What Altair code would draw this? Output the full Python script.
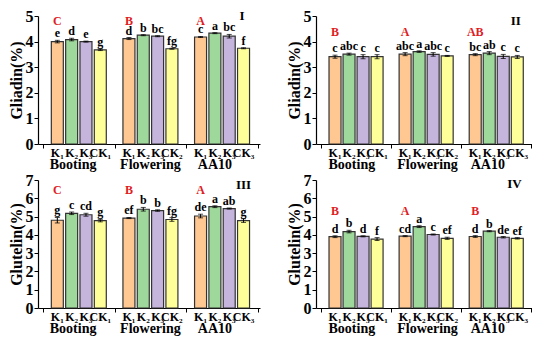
import altair as alt
import pandas as pd

FONT = "Liberation Serif"

groups = ["Booting", "Flowering", "AA10"]
treat_idx = [0, 1, 2, 3]
colors = ["#FFC892", "#9FD89B", "#C5B5DC", "#FFFF99"]

# Panel I  (Gliadin)
p1_vals = [4.00, 4.08, 4.00, 3.68, 4.12, 4.25, 4.21, 3.72, 4.18, 4.33, 4.21, 3.74]
p1_errs = [0.05, 0.05, 0.02, 0.03, 0.04, 0.02, 0.02, 0.02, 0.02, 0.02, 0.07, 0.02]
p1_lets = ["e", "d", "e", "g", "d", "b", "bc", "fg", "c", "a", "bc", "f"]
p1_grp = ["C", "B", "A"]

# Panel II (Gliadin)
p2_vals = [3.41, 3.51, 3.41, 3.41, 3.51, 3.61, 3.50, 3.44, 3.49, 3.55, 3.42, 3.40]
p2_errs = [0.06, 0.04, 0.08, 0.08, 0.06, 0.03, 0.07, 0.02, 0.04, 0.06, 0.08, 0.06]
p2_lets = ["c", "abc", "c", "c", "abc", "a", "abc", "c", "bc", "ab", "c", "c"]
p2_grp = ["B", "A", "AB"]

# Panel III (Glutelin)
p3_vals = [4.80, 5.18, 5.10, 4.78, 4.92, 5.40, 5.33, 4.84, 5.03, 5.54, 5.44, 4.78]
p3_errs = [0.15, 0.07, 0.08, 0.07, 0.03, 0.10, 0.04, 0.10, 0.10, 0.05, 0.03, 0.10]
p3_lets = ["g", "c", "cd", "g", "ef", "b", "b", "fg", "de", "a", "ab", "g"]
p3_grp = ["C", "B", "A"]

# Panel IV (Glutelin)
p4_vals = [3.90, 4.18, 3.92, 3.77, 3.93, 4.45, 4.02, 3.81, 3.91, 4.20, 3.87, 3.81]
p4_errs = [0.05, 0.07, 0.03, 0.08, 0.03, 0.05, 0.03, 0.06, 0.05, 0.03, 0.04, 0.04]
p4_lets = ["d", "b", "d", "f", "cd", "a", "c", "ef", "d", "b", "de", "ef"]
p4_grp = ["B", "A", "B"]

tick_names = [["K₁", "K₂", "K₃", "CK₁"], ["K₁", "K₂", "K₃", "CK₂"], ["K₁", "K₂", "K₃", "CK₃"]]

H = 128


def pos(g, b):
    return g * 5 + b + 1


def panel(vals, errs, lets, grp, roman, ytitle, ymax, grp_y, roman_y, roman_x, W, unit, gpos):
    rows = []
    for g in range(3):
        for b in range(4):
            i = g * 4 + b
            rows.append(dict(pos=pos(g, b), val=vals[i], lo=vals[i] - errs[i],
                             hi=vals[i] + errs[i], let=lets[i], treat=b,
                             tick=tick_names[g][b]))
    df = pd.DataFrame(rows)
    gdf = pd.DataFrame(dict(pos=[pos(g, 0) for g in range(3)], lab=grp,
                            y=[grp_y] * 3))
    gl = pd.DataFrame(dict(pos=gpos, lab=groups))
    rdf = pd.DataFrame(dict(pos=[roman_x], lab=[roman], y=[roman_y]))

    xsc = alt.Scale(domain=[0, W / unit], nice=False, zero=False)
    xax = alt.Axis(values=[0, 5, 10, 15], labels=False, title=None,
                   grid=False, tickSize=4, domainColor="black",
                   tickColor="black", domainWidth=1.2)
    ysc = alt.Scale(domain=[0, ymax], nice=False, zero=True)
    yax = alt.Axis(values=list(range(0, ymax + 1)), title=ytitle, grid=False,
                   tickSize=4, domainColor="black", tickColor="black",
                   domainWidth=1.2, titlePadding=1, labelOverlap=False,
                   labelFlush=False)

    def X():
        return alt.X("pos:Q", scale=xsc, axis=xax)

    def Y(f):
        return alt.Y(f, scale=ysc, axis=yax)

    base = alt.Chart(df)
    bars = base.mark_bar(size=12, stroke="#333333", strokeWidth=1.2).encode(
        x=X(), y=Y("val:Q"),
        color=alt.Color("treat:O", scale=alt.Scale(domain=treat_idx, range=colors),
                        legend=None),
    )
    err = base.mark_rule(color="black", strokeWidth=1).encode(
        x=X(), y=Y("lo:Q"), y2="hi:Q")
    cap_hi = base.mark_tick(color="black", size=5, thickness=1, orient="horizontal").encode(
        x=X(), y=Y("hi:Q"))
    cap_lo = base.mark_tick(color="black", size=5, thickness=1, orient="horizontal").encode(
        x=X(), y=Y("lo:Q"))
    lett = base.mark_text(font=FONT, fontWeight="bold", fontSize=12,
                          baseline="alphabetic", dy=-3, color="black").encode(
        x=X(), y=Y("hi:Q"), text="let:N")
    ticks = base.mark_text(font=FONT, fontWeight="bold", fontSize=12,
                           baseline="middle", color="black").encode(
        x=X(), y=alt.value(H + 9), text="tick:N")
    glabs = alt.Chart(gl).mark_text(font=FONT, fontWeight="bold", fontSize=14,
                                    baseline="middle", color="black").encode(
        x=X(), y=alt.value(H + 21), text="lab:N")
    glet = alt.Chart(gdf).mark_text(font=FONT, fontWeight="bold", fontSize=12,
                                    baseline="middle", color="#E0201F").encode(
        x=X(), y=Y("y:Q"), text="lab:N")
    rom = alt.Chart(rdf).mark_text(font=FONT, fontWeight="bold", fontSize=13,
                                   baseline="middle", color="black").encode(
        x=X(), y=Y("y:Q"), text="lab:N")
    return alt.layer(bars, err, cap_hi, cap_lo, lett, ticks, glabs, glet, rom).properties(
        width=W, height=H)


L_W, L_U, L_G = 222, 15.0, [2.1, 7.5, 12.0]
R_W, R_U, R_G = 216, 14.7, [2.2, 7.6, 11.9]

c1 = panel(p1_vals, p1_errs, p1_lets, p1_grp, "I", "Gliadin(%)", 5, 4.82, 5.0, 13.9, L_W, L_U, L_G)
c2 = panel(p2_vals, p2_errs, p2_lets, p2_grp, "II", "Gliadin(%)", 5, 4.38, 4.8, 13.9, R_W, R_U, R_G)
c3 = panel(p3_vals, p3_errs, p3_lets, p3_grp, "III", "Glutelin(%)", 7, 6.47, 6.75, 14.0, L_W, L_U, L_G)
c4 = panel(p4_vals, p4_errs, p4_lets, p4_grp, "IV", "Glutelin(%)", 7, 5.32, 6.8, 13.8, R_W, R_U, R_G)

top = alt.hconcat(c1, c2, spacing=26)
bot = alt.hconcat(c3, c4, spacing=26)
chart = alt.vconcat(top, bot, spacing=0).properties(padding=0).configure_view(
    stroke=None).configure_axis(
    labelFont=FONT, labelFontWeight="bold", labelFontSize=16, labelColor="black",
    titleFont=FONT, titleFontWeight="bold", titleFontSize=16, titleColor="black",
    labelPadding=1)

chart.save("out.html", embed_options={"renderer": "svg", "actions": False})
